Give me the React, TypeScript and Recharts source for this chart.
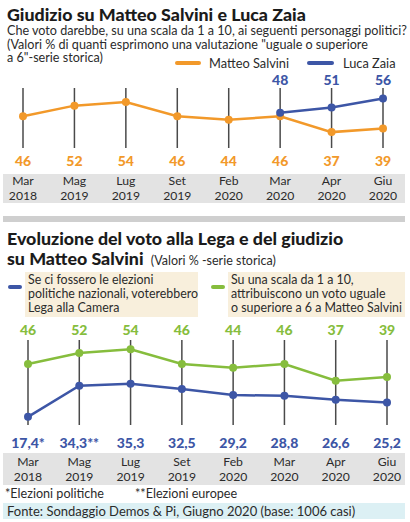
import React from 'react';
import { CartesianGrid, LabelList, Line, LineChart, XAxis, YAxis } from 'recharts';

const MONTHS = ['Mar', 'Mag', 'Lug', 'Set', 'Feb', 'Mar', 'Apr', 'Giu'];
const YEARS = ['2018', '2019', '2019', '2019', '2020', '2020', '2020', '2020'];
const SALVINI = [46, 52, 54, 46, 44, 46, 37, 39];
const ZAIA = [null, null, null, null, null, 48, 51, 56];
const GIUDIZIO = [46, 52, 54, 46, 44, 46, 37, 39];
const LEGA = [17.4, 34.3, 35.3, 32.5, 29.2, 28.8, 26.6, 25.2];
const LEGA_NOTES = ['*', '**', '', '', '', '', '', ''];

const FONT = 'Lato, "Noto Sans", sans-serif';
const C = {
  orange: '#F2992A',
  blue: '#3D56A6',
  green: '#86BD3D',
  grid: '#4a4a4a',
  text: '#2b2b2b',
  band: '#e3e3e3',
  beige: '#f8efdc',
  fonte: '#dcf0f4',
};

const topData = MONTHS.map((m, i) => ({
  key: `${m} ${YEARS[i]}`,
  salvini: SALVINI[i],
  zaia: ZAIA[i],
}));

const bottomData = MONTHS.map((m, i) => ({
  key: `${m} ${YEARS[i]}`,
  giudizio: GIUDIZIO[i],
  lega: LEGA[i],
}));

function MonthTick(props: any) {
  const { x, payload, baseY } = props;
  const i = payload.index;
  return (
    <g fontFamily={FONT} fontSize={12.2} fill={C.text} textAnchor="middle">
      <text x={x} y={baseY}>{MONTHS[i]}</text>
      <text x={x} y={baseY + 14.5}>{YEARS[i]}</text>
    </g>
  );
}

function fixedLabel(y0: number, color: string, fmt: (v: number, i: number) => string) {
  return (p: any) => {
    if (p.value === null || p.value === undefined) return null;
    return (
      <text
        x={p.x}
        y={y0}
        textAnchor="middle"
        fontFamily={FONT}
        fontWeight={900}
        fontSize={14}
        fill={color}
      >
        {fmt(p.value, p.index)}
      </text>
    );
  };
}

const abs = (top: number, left: number, extra: React.CSSProperties = {}): React.CSSProperties => ({
  position: 'absolute',
  top,
  left,
  ...extra,
});

export default function App() {
  return (
    <div
      style={{
        position: 'absolute',
        left: 0,
        top: 0,
        width: 410,
        height: 522,
        background: '#fff',
        fontFamily: FONT,
        color: C.text,
        overflow: 'hidden',
      }}
    >
      {/* top panel */}
      <div style={abs(3, 7, { fontSize: 17.8, fontWeight: 900, color: '#1b1b1b', whiteSpace: 'nowrap' })}>
        Giudizio su Matteo Salvini e Luca Zaia
      </div>
      <div style={abs(24, 7, { fontSize: 12.6, lineHeight: '13.5px', width: 403 })}>
        Che voto darebbe, su una scala da 1 a 10, ai seguenti personaggi politici?
        <br />
        (Valori % di quanti esprimono una valutazione "uguale o superiore
        <br />
        a 6"-serie storica)
      </div>
      <div style={abs(61, 175, { width: 26, height: 4, borderRadius: 2, background: C.orange })} />
      <div style={abs(55, 209, { fontSize: 12.8, whiteSpace: 'nowrap' })}>Matteo Salvini</div>
      <div style={abs(61, 307, { width: 27, height: 4, borderRadius: 2, background: C.blue })} />
      <div style={abs(55, 343, { fontSize: 12.8, whiteSpace: 'nowrap' })}>Luca Zaia</div>

      <div style={abs(174, 3, { width: 402, height: 29, background: C.band })} />
      <div style={abs(70, 0)}>
        <LineChart
          width={410}
          height={140}
          data={topData}
          margin={{ top: 18, right: 27, bottom: 12, left: 23 }}
        >
          <CartesianGrid horizontal={false} stroke={C.grid} strokeWidth={1.5} />
          <XAxis
            dataKey="key"
            axisLine={false}
            tickLine={false}
            height={50}
            interval={0}
            tick={<MonthTick baseY={115} />}
          />
          <YAxis hide domain={[28, 62]} />
          <Line
            dataKey="salvini"
            stroke={C.orange}
            strokeWidth={2.5}
            dot={{ r: 4, fill: C.orange, stroke: C.orange, strokeWidth: 0 }}
            isAnimationActive={false}
          >
            <LabelList content={fixedLabel(96, C.orange, (v) => String(v))} />
          </Line>
          <Line
            dataKey="zaia"
            stroke={C.blue}
            strokeWidth={2.5}
            dot={{ r: 4, fill: C.blue, stroke: C.blue, strokeWidth: 0 }}
            isAnimationActive={false}
          >
            <LabelList content={fixedLabel(15, C.blue, (v) => String(v))} />
          </Line>
        </LineChart>
      </div>

      <div style={abs(216, 3, { width: 402, height: 6, background: '#cfcfcf' })} />

      {/* bottom panel */}
      <div style={abs(228, 7, { fontSize: 17.8, fontWeight: 900, color: '#1b1b1b', lineHeight: '20px', width: 400 })}>
        Evoluzione del voto alla Lega e del giudizio
        <br />
        su Matteo Salvini{' '}
        <span style={{ fontSize: 12.5, fontWeight: 400, color: C.text, marginLeft: 3 }}>
          (Valori % -serie storica)
        </span>
      </div>

      <div style={abs(272, 25, { width: 173, height: 45, background: C.beige })} />
      <div style={abs(285, 8, { width: 14, height: 4, borderRadius: 2, background: C.blue })} />
      <div style={abs(273, 28, { fontSize: 12.4, lineHeight: '14px', whiteSpace: 'nowrap' })}>
        Se ci fossero le elezioni
        <br />
        politiche nazionali, voterebbero
        <br />
        Lega alla Camera
      </div>
      <div style={abs(272, 228, { width: 177, height: 45, background: C.beige })} />
      <div style={abs(285, 211, { width: 14, height: 4, borderRadius: 2, background: C.green })} />
      <div style={abs(273, 231, { fontSize: 12.4, lineHeight: '14px', whiteSpace: 'nowrap' })}>
        Su una scala da 1 a 10,
        <br />
        attribuiscono un voto uguale
        <br />o superiore a 6 a Matteo Salvini
      </div>

      <div style={abs(453, 3, { width: 402, height: 32, background: C.band })} />
      <div style={abs(320, 0)}>
        <LineChart
          width={410}
          height={170}
          data={bottomData}
          margin={{ top: 20, right: 23, bottom: 5, left: 28 }}
        >
          <CartesianGrid horizontal={false} stroke={C.grid} strokeWidth={1.5} />
          <XAxis
            dataKey="key"
            axisLine={false}
            tickLine={false}
            height={60}
            interval={0}
            tick={<MonthTick baseY={146} />}
          />
          <YAxis hide domain={[13, 59]} />
          <Line
            dataKey="giudizio"
            stroke={C.green}
            strokeWidth={2.5}
            dot={{ r: 4, fill: C.green, stroke: C.green, strokeWidth: 0 }}
            isAnimationActive={false}
          >
            <LabelList content={fixedLabel(15, C.green, (v) => String(v))} />
          </Line>
          <Line
            dataKey="lega"
            stroke={C.blue}
            strokeWidth={2.5}
            dot={{ r: 4, fill: C.blue, stroke: C.blue, strokeWidth: 0 }}
            isAnimationActive={false}
          >
            <LabelList
              content={fixedLabel(128, C.blue, (v, i) => v.toFixed(1).replace('.', ',') + LEGA_NOTES[i])}
            />
          </Line>
        </LineChart>
      </div>

      <div style={abs(486, 5, { fontSize: 12.6, whiteSpace: 'nowrap' })}>*Elezioni politiche</div>
      <div style={abs(486, 135, { fontSize: 12.6, whiteSpace: 'nowrap' })}>**Elezioni europee</div>
      <div style={abs(503, 3, { width: 402, height: 16, background: C.fonte })} />
      <div style={abs(503, 7, { fontSize: 13, lineHeight: '16px', whiteSpace: 'nowrap' })}>
        Fonte: Sondaggio Demos &amp; Pi, Giugno 2020 (base: 1006 casi)
      </div>
    </div>
  );
}
